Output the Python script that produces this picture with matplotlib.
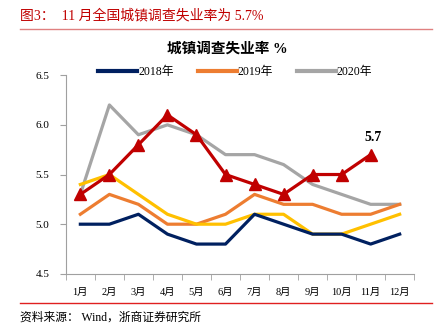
import matplotlib
matplotlib.use("Agg")
import matplotlib.pyplot as plt
from matplotlib.lines import Line2D
import numpy as np

plt.rcParams['font.family'] = ['Liberation Serif', 'Noto Sans CJK SC']

months = ['1月', '2月', '3月', '4月', '5月', '6月', '7月', '8月', '9月', '10月', '11月', '12月']
rate_2018 = [5.0, 5.0, 5.1, 4.9, 4.8, 4.8, 5.1, 5.0, 4.9, 4.9, 4.8, 4.9]
rate_2019 = [5.1, 5.3, 5.2, 5.0, 5.0, 5.1, 5.3, 5.2, 5.2, 5.1, 5.1, 5.2]
rate_2020 = [5.3, 6.2, 5.9, 6.0, 5.9, 5.7, 5.7, 5.6, 5.4, 5.3, 5.2, 5.2]
rate_yellow = [5.4, 5.5, 5.3, 5.1, 5.0, 5.0, 5.1, 5.1, 4.9, 4.9, 5.0, 5.1]
rate_2021 = [5.3, 5.5, 5.8, 6.1, 5.9, 5.5, 5.4, 5.3, 5.5, 5.5, 5.7]
yticks = [4.5, 5.0, 5.5, 6.0, 6.5]

red = '#C00000'
fig = plt.figure(figsize=(4.36, 3.34), dpi=100)
ax = fig.add_axes([0.151, 0.180, 0.799, 0.595])

x = np.arange(len(months))
lw = 2.3
ax.plot(x, rate_2020, color='#A5A5A5', lw=lw)
ax.plot(x, rate_2019, color='#ED7D31', lw=lw)
ax.plot(x, rate_yellow, color='#FFC000', lw=lw)
ax.plot(x, rate_2018, color='#002060', lw=lw)
ax.plot(x[:len(rate_2021)], rate_2021, color=red, lw=lw, marker='^', markersize=8,
        markerfacecolor=red, markeredgecolor=red)
ax.annotate(f'{rate_2021[-1]:.1f}', (x[len(rate_2021) - 1], rate_2021[-1]),
            xytext=(2, 8), textcoords='offset points', ha='center', va='bottom',
            fontsize=10, fontweight='bold')

ax.set_xlim(-0.5, len(months) - 0.5)
ax.set_ylim(4.5, 6.5)
ax.set_yticks(yticks)
ax.set_yticklabels([f'{v:.1f}' for v in yticks], fontsize=8)
ax.set_xticks(x)
ax.set_xticklabels(months, fontsize=7.5)
ax.set_xticks(np.arange(-0.5, len(months)), minor=True)
ax.tick_params(axis='x', which='major', length=0, pad=10)
ax.tick_params(axis='x', which='minor', length=4, color='#A0A0A0')
ax.tick_params(axis='y', length=4, color='#A0A0A0', pad=8)
for s in ['top', 'right']:
    ax.spines[s].set_visible(False)
for s in ['left', 'bottom']:
    ax.spines[s].set_color('#A0A0A0')

handles = [Line2D([], [], color='#002060', lw=3),
           Line2D([], [], color='#ED7D31', lw=3),
           Line2D([], [], color='#A5A5A5', lw=3)]
fig.legend(handles, ['2018年', '2019年', '2020年'], loc='center', bbox_to_anchor=(0.54, 0.785),
           ncol=3, frameon=False, fontsize=8.5, handlelength=3.3, handletextpad=0.1,
           columnspacing=2.0)

fig.text(0.522, 0.855, '城镇调查失业率 %', ha='center', va='center', fontsize=10.5, fontweight='bold')
fig.text(0.046, 0.953, '图3：  11 月全国城镇调查失业率为 5.7%', color=red, fontsize=10,
         va='center')
fig.add_artist(Line2D([0.046, 0.99], [0.913, 0.913], color='#E08080', lw=1))
fig.add_artist(Line2D([0.046, 0.99], [0.093, 0.093], color='#E02020', lw=1))
fig.text(0.046, 0.048, '资料来源： Wind，浙商证券研究所', fontsize=8.5, va='center')

fig.savefig('out.png', dpi=100)
